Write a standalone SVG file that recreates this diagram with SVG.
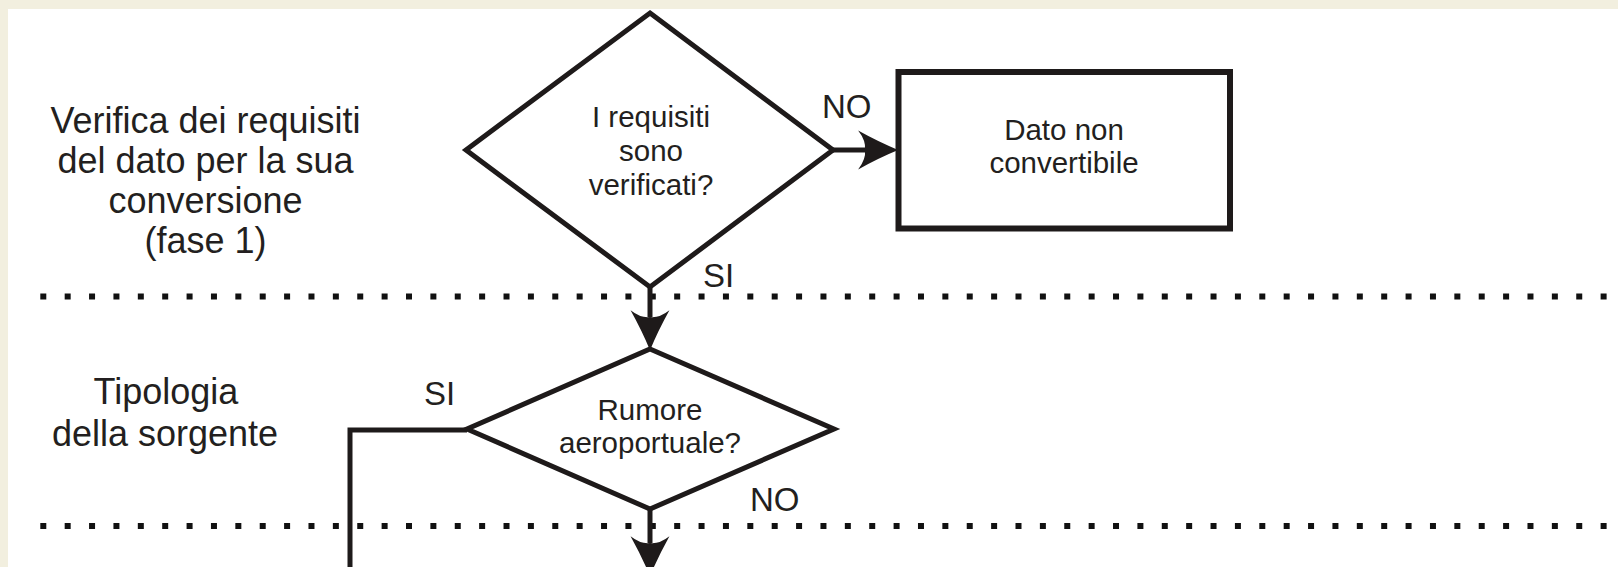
<svg xmlns="http://www.w3.org/2000/svg" width="1618" height="567" viewBox="0 0 1618 567">
  <style>
    .bg { fill: #f2efdf; }
    .paper { fill: #ffffff; }
    .shape { fill: #ffffff; stroke: #1e1a1a; stroke-width: 5; stroke-linejoin: miter; }
    .box { fill: #ffffff; stroke: #1e1a1a; stroke-width: 6; }
    .conn { fill: none; stroke: #1e1a1a; stroke-width: 5; }
    .dots { fill: none; stroke: #111111; stroke-width: 6; stroke-dasharray: 6 18.38; }
    .lane { font-family: "Liberation Sans", Arial, sans-serif; font-size: 36px; fill: #231f20; text-anchor: middle; }
    .node { font-family: "Liberation Sans", Arial, sans-serif; font-size: 29.5px; fill: #231f20; text-anchor: middle; }
    .lbl { font-family: "Liberation Sans", Arial, sans-serif; font-size: 33px; fill: #231f20; }
  </style>
  <defs>
    <marker id="arrow" markerUnits="userSpaceOnUse" markerWidth="40" markerHeight="40" viewBox="0 0 35 34" refX="6" refY="17" orient="auto" overflow="visible">
      <path d="M35,17 Q18,10 0,0 Q7,9 6,17 Q7,25 0,34 Q18,24 35,17 Z" fill="#1e1a1a"/>
    </marker>
  </defs>

  <rect class="bg" x="0" y="0" width="1618" height="567"/>
  <rect class="paper" x="8" y="9" width="1610" height="558"/>

  <g id="separators">
    <line class="dots" x1="40.3" y1="296.5" x2="1610" y2="296.5"/>
    <line class="dots" x1="40.3" y1="526" x2="1610" y2="526"/>
  </g>

  <g id="lane-labels">
    <text class="lane" x="205.5" y="133">Verifica dei requisiti</text>
    <text class="lane" x="205.5" y="173">del dato per la sua</text>
    <text class="lane" x="205.5" y="213">conversione</text>
    <text class="lane" x="205.5" y="253">(fase 1)</text>
    <text class="lane" x="166" y="404">Tipologia</text>
    <text class="lane" x="165" y="446">della sorgente</text>
  </g>

  <g id="connectors">
    <line class="conn" x1="833" y1="150" x2="865" y2="150" marker-end="url(#arrow)"/>
    <line class="conn" x1="650" y1="287" x2="650" y2="317" marker-end="url(#arrow)"/>
    <polyline class="conn" points="467,430 350,430 350,572"/>
    <line class="conn" x1="650" y1="509" x2="650" y2="543" marker-end="url(#arrow)"/>
    <text class="lbl" x="822" y="118">NO</text>
    <text class="lbl" x="703" y="287">SI</text>
    <text class="lbl" x="424" y="405">SI</text>
    <text class="lbl" x="750" y="511">NO</text>
  </g>

  <g id="decision-requisiti">
    <polygon class="shape" points="650,13 833,150 650,287 466,150"/>
    <text class="node" x="651" y="127">I requisiti</text>
    <text class="node" x="651" y="161">sono</text>
    <text class="node" x="651" y="195">verificati?</text>
  </g>

  <g id="dato-non-convertibile">
    <rect class="box" x="898.5" y="72" width="331.5" height="156.5"/>
    <text class="node" x="1064" y="140">Dato non</text>
    <text class="node" x="1064" y="173">convertibile</text>
  </g>

  <g id="decision-rumore">
    <polygon class="shape" points="650,349 834,429 650,509 467,429"/>
    <text class="node" x="650" y="420">Rumore</text>
    <text class="node" x="650" y="453">aeroportuale?</text>
  </g>
</svg>
